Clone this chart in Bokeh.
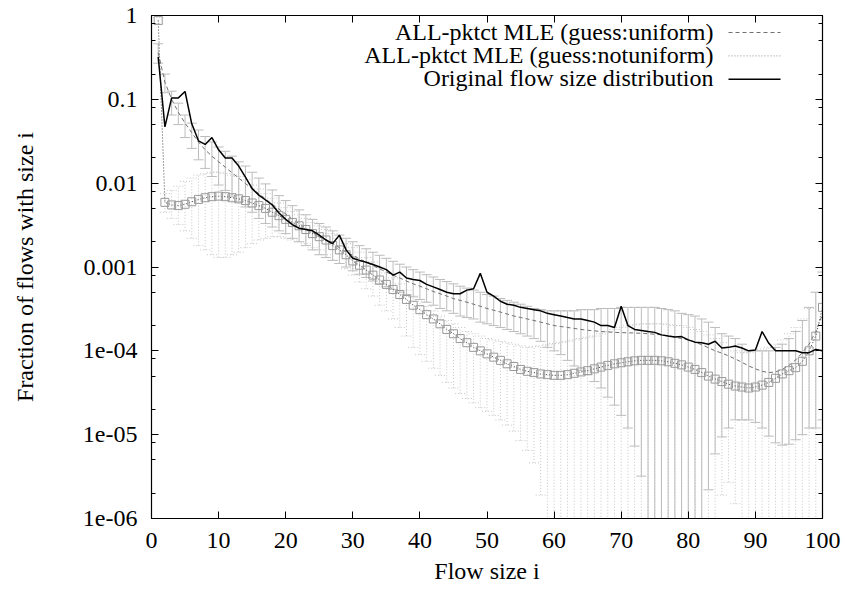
from bokeh.plotting import figure
from bokeh.models import (Range1d, LogAxis, LinearAxis, FixedTicker,
                          CustomJSTickFormatter, Label, Arrow)
from bokeh.embed import file_html
from bokeh.resources import INLINE

# ---------------- data ----------------
flow_size = list(range(1, 101))

original = [0.32, 0.047, 0.104, 0.104, 0.124, 0.051, 0.032, 0.029, 0.035, 0.025,
            0.020, 0.020, 0.016, 0.0118, 0.0086, 0.0072, 0.0063, 0.0055, 0.0044, 0.0037,
            0.0032, 0.0029, 0.0028, 0.0027, 0.0024, 0.0021, 0.0019, 0.0024, 0.0016, 0.00127,
            0.0012, 0.00114, 0.00107, 0.001, 0.00093, 0.0008, 0.00087, 0.00074, 0.00071, 0.00069,
            0.00062, 0.00058, 0.00054, 0.0005, 0.00048, 0.00048, 0.00053, 0.00055, 0.00084, 0.0005,
            0.00045, 0.00039, 0.00036, 0.00035, 0.00033, 0.00032, 0.00031, 0.0003, 0.00028, 0.00027,
            0.00026, 0.00025, 0.00024, 0.00024, 0.00023, 0.00022, 0.0002, 0.0002, 0.00019, 0.00034,
            0.0002, 0.00018, 0.000175, 0.00017, 0.000166, 0.000155, 0.00015, 0.000146, 0.000148, 0.000135,
            0.000127, 0.000125, 0.00012, 0.00013, 0.000108, 0.00011, 0.000114, 0.000108, 0.0001, 0.000102,
            0.00017, 0.000123, 0.0001, 0.0001, 0.0001, 0.0001, 0.000095, 0.000095, 0.000104, 0.0001]

mle_uniform = [0.36, 0.16, 0.1, 0.07, 0.052, 0.04, 0.031, 0.025, 0.021, 0.018,
               0.0155, 0.0133, 0.0115, 0.0099, 0.0086, 0.0075, 0.0065, 0.0056, 0.0049, 0.0043,
               0.0037, 0.0033, 0.0029, 0.0026, 0.0023, 0.0021, 0.0019, 0.0017, 0.0015, 0.00138,
               0.00125, 0.00114, 0.00104, 0.00095, 0.00087, 0.0008, 0.00074, 0.00068, 0.00063, 0.00059,
               0.00055, 0.00051, 0.00048, 0.00045, 0.00042, 0.0004, 0.00038, 0.00036, 0.00034, 0.00032,
               0.000305, 0.00029, 0.000275, 0.00026, 0.00025, 0.00024, 0.00023, 0.00022, 0.00021, 0.0002,
               0.000195, 0.00019, 0.000185, 0.00018, 0.000176, 0.000173, 0.00017, 0.000168, 0.000166, 0.000165,
               0.000164, 0.000163, 0.000162, 0.00016, 0.000158, 0.000155, 0.000151, 0.000146, 0.00014, 0.000135,
               0.000127, 0.000118, 0.000109, 0.0001, 0.000094, 0.000087, 0.00008, 0.000073, 0.000066, 0.000061,
               0.000057, 0.000055, 0.000056, 0.00006, 0.000067, 0.000078, 0.000095, 0.00012, 0.00017, 0.00027]

uniform_low = [0.27, 0.12, 0.065, 0.05, 0.035, 0.026, 0.019, 0.015, 0.012, 0.0095,
               0.0082, 0.007, 0.006, 0.0052, 0.0045, 0.0038, 0.0033, 0.003, 0.0027, 0.0025,
               0.0022, 0.002, 0.0018, 0.0016, 0.0014, 0.0013, 0.0012, 0.0011, 0.001, 0.0009,
               0.00082, 0.00075, 0.00068, 0.00062, 0.00058, 0.00054, 0.0005, 0.00047, 0.00044, 0.00041,
               0.00038, 0.00035, 0.00032, 0.0003, 0.00028, 0.00026, 0.00025, 0.00024, 0.00022, 0.00021,
               0.0002, 0.00019, 0.00018, 0.00017, 0.00016, 0.00015, 0.00014, 0.00013, 0.00011, 0.0001,
               0.00009, 0.000077, 0.000066, 0.000058, 0.000052, 0.000043, 0.000036, 0.000028, 0.0000225, 0.000017,
               0.000012, 0.0000073, 0.0000032, 5e-7, 5e-7, 5e-7, 5e-7, 5e-7, 5e-7, 5e-7,
               5e-7, 5e-7, 0.0000022, 0.0000059, 0.0000094, 0.000012, 0.000015, 0.000015, 0.000015, 0.000014,
               0.000012, 0.0000096, 0.000008, 0.0000075, 0.0000077, 0.0000087, 0.00001, 0.000012, 0.000012, 0.000015]

uniform_high = [0.46, 0.2, 0.125, 0.09, 0.065, 0.052, 0.043, 0.036, 0.031, 0.027,
                0.024, 0.021, 0.018, 0.016, 0.0135, 0.0115, 0.0098, 0.0083, 0.0071, 0.0062,
                0.0054, 0.0048, 0.0042, 0.0037, 0.0033, 0.003, 0.0027, 0.0024, 0.0022, 0.002,
                0.0018, 0.00165, 0.0015, 0.00138, 0.00127, 0.00117, 0.00108, 0.001, 0.00093, 0.00087,
                0.00081, 0.00076, 0.00071, 0.00067, 0.00063, 0.00059, 0.00056, 0.00053, 0.0005, 0.00047,
                0.00045, 0.00042, 0.0004, 0.00038, 0.00036, 0.00034, 0.00032, 0.00031, 0.0003, 0.0003,
                0.0003, 0.0003, 0.0003, 0.00031, 0.00031, 0.00031, 0.00032, 0.00032, 0.00032, 0.00033,
                0.00033, 0.00033, 0.00033, 0.00033, 0.00033, 0.00032, 0.00031, 0.0003, 0.00028, 0.00027,
                0.00026, 0.00024, 0.00022, 0.00019, 0.00016, 0.00015, 0.00014, 0.00012, 0.0001, 0.0001,
                0.0001, 0.0001, 0.00011, 0.00012, 0.00014, 0.00017, 0.00023, 0.00033, 0.0005, 0.00087]

mle_notuniform = [0.87, 0.0059, 0.0055, 0.0054, 0.0056, 0.006, 0.0064, 0.0067, 0.0069, 0.007,
                  0.0069, 0.0067, 0.0065, 0.0062, 0.0058, 0.0054, 0.005, 0.0045, 0.0041, 0.0037,
                  0.0034, 0.0031, 0.0028, 0.0025, 0.0023, 0.0021, 0.0018, 0.0016, 0.0014, 0.00118,
                  0.00105, 0.00092, 0.0008, 0.0007, 0.00062, 0.00054, 0.00047, 0.00041, 0.00035, 0.00031,
                  0.00027, 0.00024, 0.00021, 0.00018, 0.00016, 0.00014, 0.000125, 0.00011, 0.0001, 0.000092,
                  0.000084, 0.000077, 0.00007, 0.000065, 0.00006, 0.000057, 0.000055, 0.000053, 0.000052, 0.000051,
                  0.000051, 0.000052, 0.000054, 0.000056, 0.000058, 0.000061, 0.000064, 0.000067, 0.00007, 0.000072,
                  0.000074, 0.000076, 0.000077, 0.000077, 0.000077, 0.000076, 0.000074, 0.000071, 0.000068, 0.000064,
                  0.00006, 0.000055, 0.00005, 0.000046, 0.000043, 0.00004, 0.000038, 0.000037, 0.000036, 0.000037,
                  0.000039, 0.000042, 0.000047, 0.000053, 0.000058, 0.000063, 0.000075, 0.0001, 0.00015, 0.00033]

notuniform_low = [0.8, 0.0045, 0.0038, 0.0032, 0.0027, 0.0022, 0.0018, 0.0016, 0.0014, 0.0013,
                  0.0013, 0.0014, 0.0015, 0.0017, 0.0019, 0.0021, 0.0022, 0.0023, 0.0023, 0.0022,
                  0.0021, 0.002, 0.0019, 0.0017, 0.0016, 0.0014, 0.0012, 0.0011, 0.00095, 0.0008,
                  0.00066, 0.00055, 0.00045, 0.00035, 0.0003, 0.00024, 0.00019, 0.00015, 0.00011, 0.00009,
                  0.000075, 0.000062, 0.000051, 0.000042, 0.000036, 0.000031, 0.000027, 0.000024, 0.000021, 0.000019,
                  0.000017, 0.000015, 0.000013, 0.000011, 0.0000085, 0.0000065, 0.0000046, 0.0000019, 5e-7, 5e-7,
                  5e-7, 5e-7, 5e-7, 5e-7, 5e-7, 5e-7, 5e-7, 5e-7, 5e-7, 5e-7,
                  5e-7, 5e-7, 5e-7, 5e-7, 5e-7, 5e-7, 5e-7, 5e-7, 5e-7, 5e-7,
                  5e-7, 5e-7, 5e-7, 5e-7, 0.0000019, 0.0000027, 0.0000015, 5e-7, 5e-7, 5e-7,
                  5e-7, 5e-7, 5e-7, 5e-7, 5e-7, 5e-7, 5e-7, 5e-7, 5e-7, 5e-7]

notuniform_high = [0.95, 0.0075, 0.0082, 0.0092, 0.0105, 0.0115, 0.0125, 0.013, 0.0135, 0.0135,
                   0.013, 0.0125, 0.012, 0.011, 0.0095, 0.0085, 0.0075, 0.0066, 0.0058, 0.0051,
                   0.0046, 0.0042, 0.0038, 0.0034, 0.0031, 0.0028, 0.0025, 0.0022, 0.0019, 0.0017,
                   0.0015, 0.0013, 0.00115, 0.001, 0.00085, 0.00074, 0.00063, 0.00053, 0.00045, 0.00039,
                   0.00034, 0.0003, 0.00026, 0.00023, 0.00021, 0.00019, 0.00017, 0.00016, 0.00015, 0.00014,
                   0.000135, 0.00013, 0.000125, 0.00012, 0.000115, 0.00011, 0.000112, 0.000115, 0.000118, 0.000122,
                   0.000126, 0.00013, 0.000135, 0.00014, 0.000145, 0.00015, 0.00016, 0.00017, 0.00018, 0.00019,
                   0.0002, 0.000205, 0.00021, 0.00021, 0.00021, 0.00021, 0.000205, 0.0002, 0.0002, 0.00019,
                   0.00018, 0.00017, 0.000155, 0.00014, 0.000125, 0.00011, 0.0001, 0.000095, 0.000095, 0.0001,
                   0.000105, 0.00011, 0.00012, 0.000135, 0.00016, 0.00019, 0.00024, 0.00032, 0.0005, 0.00087]

x_ticks = [0, 10, 20, 30, 40, 50, 60, 70, 80, 90, 100]
y_ticks = [1e-6, 1e-5, 1e-4, 1e-3, 1e-2, 1e-1, 1]
y_tick_labels = ["1e-06", "1e-05", "1e-04", "0.001", "0.01", "0.1", "1"]
y_minor = [m * d for d in [1e-6, 1e-5, 1e-4, 1e-3, 1e-2, 1e-1] for m in (2, 5, 8)]

legend_labels = ["ALL-pktct MLE (guess:uniform)",
                 "ALL-pktct MLE (guess:notuniform)",
                 "Original flow size distribution"]

FONT = "Liberation Serif"

# ---------------- figure ----------------
p = figure(width=846, height=594, y_axis_type="log",
           x_range=Range1d(0, 100), y_range=Range1d(1e-6, 1),
           output_backend="svg", toolbar_location=None,
           min_border_left=151, min_border_right=24,
           min_border_top=15, min_border_bottom=76)
p.xgrid.visible = False
p.ygrid.visible = False
p.outline_line_color = "black"
p.outline_line_alpha = 1
p.outline_line_width = 1.2
p.background_fill_color = "white"
p.border_fill_color = "white"


def style_axis(ax, show_labels):
    ax.axis_line_color = "black"
    ax.major_tick_in = 7
    ax.major_tick_out = 0
    ax.minor_tick_in = 4
    ax.minor_tick_out = 0
    ax.major_tick_line_color = "black"
    ax.minor_tick_line_color = "black"
    ax.major_label_text_font = FONT
    ax.major_label_text_color = "black"
    if show_labels:
        ax.major_label_text_font_size = "24px"
    else:
        ax.major_label_text_font_size = "0px"
        ax.major_label_standoff = 0
        ax.formatter = CustomJSTickFormatter(code="return ''")


xax = p.xaxis[0]
xax.ticker = FixedTicker(ticks=x_ticks, minor_ticks=[])
style_axis(xax, True)
xax.major_label_standoff = 14
xax.axis_label = "Flow size i"
xax.axis_label_text_font = FONT
xax.axis_label_text_font_size = "24px"
xax.axis_label_text_font_style = "normal"
xax.axis_label_text_color = "black"
xax.axis_label_standoff = 7

yax = p.yaxis[0]
yax.ticker = FixedTicker(ticks=y_ticks, minor_ticks=y_minor)
style_axis(yax, True)
yax.formatter = CustomJSTickFormatter(
    args=dict(labels=y_tick_labels),
    code="const e = Math.round(Math.log10(tick)); return labels[e + 6];")
yax.major_label_standoff = 14
yax.axis_label = "Fraction of flows with size i"
yax.axis_label_text_font = FONT
yax.axis_label_text_font_size = "24px"
yax.axis_label_text_font_style = "normal"
yax.axis_label_text_color = "black"
yax.axis_label_standoff = 42

top_ax = LinearAxis(ticker=FixedTicker(ticks=x_ticks, minor_ticks=[]))
style_axis(top_ax, False)
p.add_layout(top_ax, "above")

right_ax = LogAxis(ticker=FixedTicker(ticks=y_ticks, minor_ticks=y_minor))
style_axis(right_ax, False)
p.add_layout(right_ax, "right")

# ---------------- error bars ----------------
NU_BAR = "#c4c4c4"
U_BAR = "#bcbcbc"
p.segment(x0=flow_size, y0=notuniform_low, x1=flow_size, y1=notuniform_high,
          line_color=NU_BAR, line_width=1, line_dash="1 2")
p.scatter(x=flow_size + flow_size, y=notuniform_low + notuniform_high,
          marker="dash", size=10, line_color=NU_BAR, line_width=1, line_dash="1 2")

p.segment(x0=flow_size, y0=uniform_low, x1=flow_size, y1=uniform_high,
          line_color=U_BAR, line_width=1)
p.scatter(x=flow_size + flow_size, y=uniform_low + uniform_high,
          marker="dash", size=10, line_color=U_BAR, line_width=1)

# ---------------- lines ----------------
p.line(flow_size, mle_uniform, line_color="#707070", line_width=1, line_dash="4 3")
p.line(flow_size, mle_notuniform, line_color="#404040", line_width=1, line_dash="1 2")
p.scatter(flow_size, mle_notuniform, marker="square", size=8,
          fill_color=None, line_color="#9a9a9a", line_width=1)
p.line(flow_size, original, line_color="black", line_width=1.5)

# ---------------- legend (gnuplot style: text then sample) ----------------
legend_styles = [("#707070", "4 3", 1), ("#909090", "1 2", 1), ("black", "solid", 1.5)]
for k, (lab, (col, dash, lw)) in enumerate(zip(legend_labels, legend_styles)):
    row = 486 - 23.4 * k
    p.add_layout(Label(x=562, y=row + 1, x_units="screen", y_units="screen",
                       text=lab, text_align="right", text_baseline="alphabetic",
                       text_font=FONT, text_font_size="24px", text_color="black"))
    p.add_layout(Arrow(x_start=577, y_start=row, x_end=629, y_end=row,
                       start_units="screen", end_units="screen", end=None,
                       line_color=col, line_dash=dash, line_width=lw))

open("out.html", "w").write(file_html(p, INLINE))
